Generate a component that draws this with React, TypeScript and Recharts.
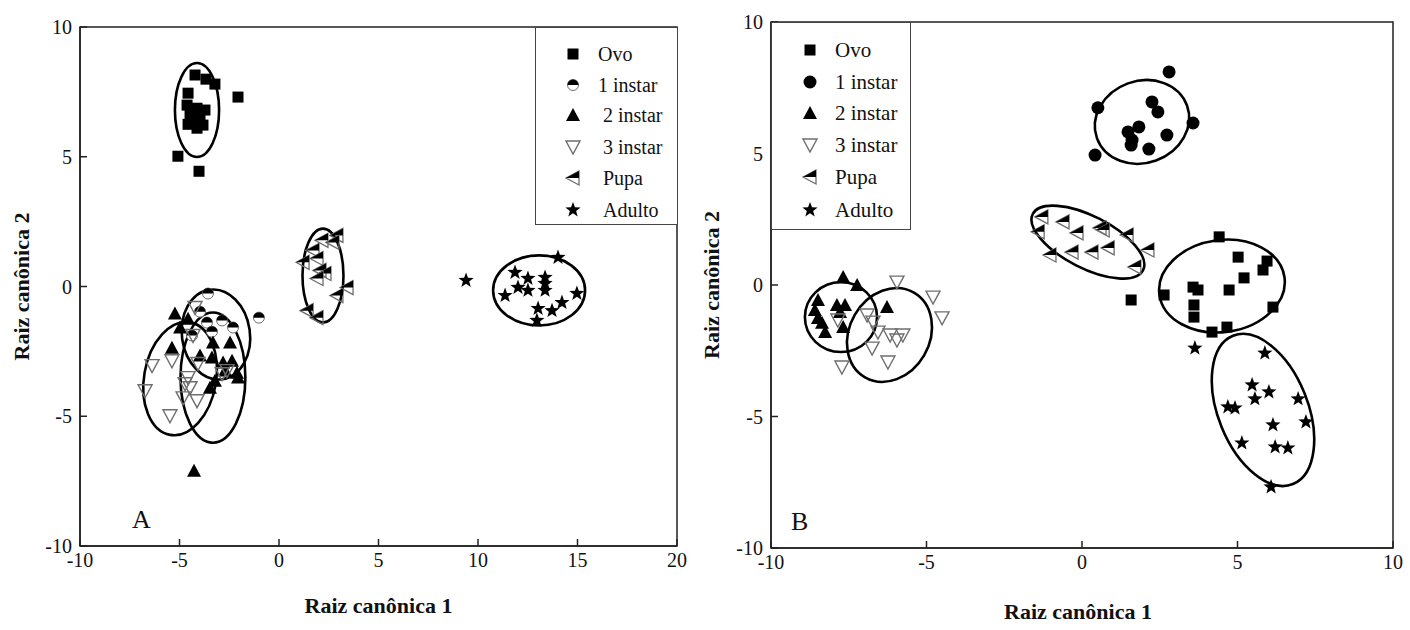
import React from 'react';
import { ScatterChart, Scatter, XAxis, YAxis, ReferenceArea, Legend } from 'recharts';

const FONT = '"Liberation Serif", "Times New Roman", serif';
const SERIES_NAMES = ['Ovo', '1 instar', '2 instar', '3 instar', 'Pupa', 'Adulto'];
const X_TICKS_A = [-10, -5, 0, 5, 10, 15, 20];
const X_TICKS_B = [-10, -5, 0, 5, 10];
const Y_TICKS = [-10, -5, 0, 5, 10];

// ---------- Panel A ----------
const A_OVO = [[-4.22, 8.15], [-3.67, 7.99], [-3.22, 7.8], [-4.57, 7.45], [-2.06, 7.3], [-4.62, 6.99], [-4.12, 6.87], [-3.72, 6.8], [-4.47, 6.6], [-3.97, 6.49], [-4.32, 6.41], [-4.57, 6.25], [-3.82, 6.22], [-4.12, 6.1], [-5.08, 5.02], [-4.02, 4.44]];
const A_INSTAR1 = [[-3.57, -0.27], [-1.01, -1.2], [-3.62, -1.39], [-3.37, -1.74], [-2.86, -1.31], [-4.37, -1.89], [-3.97, -0.97], [-2.31, -1.58]];
const A_INSTAR2 = [[-5.23, -1.04], [-4.97, -1.58], [-5.38, -2.36], [-4.57, -1.24], [-3.32, -2.16], [-2.46, -2.16], [-3.97, -2.66], [-3.37, -2.74], [-2.81, -2.93], [-2.36, -2.86], [-2.11, -3.32], [-2.06, -3.51], [-3.22, -3.63], [-3.47, -3.9], [-2.71, -3.24], [-4.27, -7.1]];
const A_INSTAR3 = [[-4.22, -0.81], [-5.38, -2.86], [-6.38, -3.05], [-6.73, -4.02], [-4.57, -3.51], [-4.72, -3.75], [-4.47, -3.9], [-4.82, -4.29], [-4.12, -4.4], [-5.48, -4.98], [-2.86, -3.36], [-4.07, -2.97], [-4.32, -1.89], [-2.61, -3.24]];
const A_PUPA = [[2.91, 1.97], [2.71, 1.7], [2.16, 1.78], [1.71, 1.39], [1.21, 0.93], [1.91, 1.08], [2.06, 0.62], [2.31, 0.5], [1.91, 0.31], [3.42, -0.04], [2.91, -0.35], [1.41, -0.93], [1.91, -1.2]];
const A_ADULTO = [[9.4, 0.23], [14.02, 1.12], [11.86, 0.54], [12.51, 0.31], [13.37, 0.35], [13.37, 0.12], [12.01, -0.04], [12.51, -0.15], [13.37, -0.15], [11.36, -0.35], [14.97, -0.27], [14.22, -0.62], [13.72, -0.93], [13.02, -0.85], [12.96, -1.31]];
// ellipses: centre x, centre y, radius x, radius y, tilt (deg)
const A_ELLIPSES = [
  [-4.12, 6.8, 1.11, 1.81, 0],
  [-3.17, -1.85, 1.71, 1.74, -8],
  [-3.32, -3.51, 1.63, 2.51, 0],
  [-4.97, -3.55, 1.81, 2.2, 10],
  [2.21, 0.42, 1.03, 1.81, 0],
  [13.07, -0.15, 2.31, 1.35, 0],
];

// ---------- Panel B ----------
const B_OVO = [[4.41, 1.83], [5.02, 1.06], [5.95, 0.91], [5.82, 0.57], [5.21, 0.27], [4.73, -0.19], [3.57, -0.08], [3.73, -0.19], [2.64, -0.38], [1.58, -0.57], [3.6, -0.76], [3.6, -1.22], [6.14, -0.84], [4.18, -1.79], [4.66, -1.6]];
const B_INSTAR1 = [[2.8, 8.1], [0.51, 6.74], [3.57, 6.16], [0.42, 4.94], [2.25, 6.96], [2.44, 6.58], [1.83, 6.01], [1.48, 5.82], [1.61, 5.51], [1.58, 5.32], [2.15, 5.17], [2.73, 5.7]];
const B_INSTAR2 = [[-7.68, 0.3], [-7.23, 0.0], [-8.49, -0.57], [-8.59, -0.95], [-7.88, -0.76], [-7.62, -0.76], [-8.49, -1.25], [-8.26, -1.79], [-7.68, -1.6], [-6.27, -0.84], [-8.36, -1.44], [-7.78, -1.03]];
const B_INSTAR3 = [[-5.95, 0.11], [-4.79, -0.46], [-4.5, -1.25], [-6.91, -1.14], [-6.72, -1.41], [-6.56, -1.79], [-6.17, -1.9], [-5.95, -2.09], [-5.76, -1.9], [-6.75, -2.4], [-6.24, -2.93], [-7.72, -3.12], [-7.85, -1.33]];
const B_PUPA = [[-1.29, 2.59], [-0.61, 2.4], [-1.41, 2.02], [-0.16, 1.98], [0.58, 2.17], [0.68, 2.09], [1.45, 1.9], [-1.03, 1.14], [-0.32, 1.25], [0.32, 1.25], [0.84, 1.41], [2.12, 1.33], [1.7, 0.68]];
const B_ADULTO = [[3.63, -2.4], [5.88, -2.59], [5.47, -3.8], [5.56, -4.33], [6.01, -4.07], [6.95, -4.33], [4.69, -4.64], [4.92, -4.68], [7.2, -5.21], [6.14, -5.32], [5.14, -6.01], [6.21, -6.16], [6.62, -6.2], [6.08, -7.68]];
const B_ELLIPSES = [
  [1.93, 6.2, 1.54, 1.56, -20],
  [-1.04 + 1.23, 1.63, 1.99, 0.99, 27],
  [4.5, -0.04, 2.03, 1.75, -8],
  [5.82, -4.75, 1.44, 3.04, -22],
  [-7.75, -1.22, 1.16, 1.33, 0],
  [-6.19, -1.9, 1.29, 1.86, 30],
];

const toPts = (arr: number[][]) => arr.map(([x, y]) => ({ x, y }));

// ---------- marker shapes ----------
const INK = '#000';
const GREY = '#6e6e6e';

function Marker({ kind, cx, cy }: { kind: string; cx: number; cy: number }) {
  switch (kind) {
    case 'square':
      return <rect x={cx - 5.5} y={cy - 5.5} width={11} height={11} fill={INK} />;
    case 'half':
      return (
        <g>
          <circle cx={cx} cy={cy} r={5.5} fill="#fff" stroke={GREY} strokeWidth={1} />
          <path d={`M ${cx - 5.5} ${cy} A 5.5 5.5 0 0 1 ${cx + 5.5} ${cy} Z`} fill={INK} />
        </g>
      );
    case 'circle':
      return <circle cx={cx} cy={cy} r={6.5} fill={INK} />;
    case 'tri':
      return <polygon points={`${cx},${cy - 7} ${cx + 7},${cy + 6} ${cx - 7},${cy + 6}`} fill={INK} />;
    case 'tridown':
      return <polygon points={`${cx - 7},${cy - 6} ${cx + 7},${cy - 6} ${cx},${cy + 7}`} fill="none" stroke={GREY} strokeWidth={1.4} />;
    case 'pupa':
      return (
        <g>
          <polygon points={`${cx - 7},${cy} ${cx + 6},${cy - 7} ${cx + 6},${cy + 7}`} fill="none" stroke={GREY} strokeWidth={1.3} />
          <polygon points={`${cx - 7},${cy} ${cx + 6},${cy - 7} ${cx + 6},${cy}`} fill={INK} />
        </g>
      );
    case 'star': {
      const pts: string[] = [];
      for (let i = 0; i < 10; i++) {
        const r = i % 2 === 0 ? 8 : 3.3;
        const a = -Math.PI / 2 + (i * Math.PI) / 5;
        pts.push(`${cx + r * Math.cos(a)},${cy + r * Math.sin(a)}`);
      }
      return <polygon points={pts.join(' ')} fill={INK} />;
    }
    default:
      return null;
  }
}

const shapeOf = (kind: string) => (props: any) => <Marker kind={kind} cx={props.cx} cy={props.cy} />;

const ellipseShape = (angle: number) => (props: any) => {
  const { x, y, width, height } = props;
  const w = Math.abs(width), h = Math.abs(height);
  const cx = Math.min(x, x + width) + w / 2;
  const cy = Math.min(y, y + height) + h / 2;
  return <ellipse cx={cx} cy={cy} rx={w / 2} ry={h / 2} transform={`rotate(${angle} ${cx} ${cy})`} fill="none" stroke="#000" strokeWidth={2.6} />;
};

// ---------- ticks ----------
const XTick = (props: any) => {
  const { x, y, payload } = props;
  return (
    <g>
      <line x1={x} x2={x} y1={y - 8} y2={y - 15} stroke="#222" strokeWidth={1.5} />
      <text x={x} y={y + 13} textAnchor="middle" fontFamily={FONT} fontSize={20} fill="#111">{payload.value}</text>
    </g>
  );
};
const YTick = (props: any) => {
  const { x, y, payload } = props;
  return (
    <g>
      <line x1={x + 8} x2={x + 15} y1={y} y2={y} stroke="#222" strokeWidth={1.5} />
      <text x={x} y={y + 7} textAnchor="end" fontFamily={FONT} fontSize={20} fill="#111">{payload.value}</text>
    </g>
  );
};

// ---------- legend ----------
function LegendBox({ kinds, w, h, rowY, markX, textX, fontSize }: any) {
  return (
    <svg width={w} height={h} style={{ display: 'block' }}>
      <rect x={0.5} y={0.5} width={w - 1} height={h - 1} fill="#fff" stroke="#444" strokeWidth={1} />
      {SERIES_NAMES.map((name, i) => (
        <g key={name}>
          <Marker kind={kinds[i]} cx={markX} cy={rowY[i]} />
          <text x={textX[i]} y={rowY[i] + 7} fontFamily={FONT} fontSize={fontSize} fill="#111">{name}</text>
        </g>
      ))}
    </svg>
  );
}

const KINDS_A = ['square', 'half', 'tri', 'tridown', 'pupa', 'star'];
const KINDS_B = ['square', 'circle', 'tri', 'tridown', 'pupa', 'star'];

function Panel(props: any) {
  const { width, margin, yWidth, xHeight, xDomain, xTicks, series, ellipses, kinds, letter, legend, titleDX, yTitleX, letterDX, xTitleDY } = props;
  return (
    <ScatterChart width={width} height={630} margin={margin}>
      <XAxis
        type="number" dataKey="x" domain={xDomain} ticks={xTicks} allowDataOverflow
        height={xHeight} tickLine={false} tickSize={6} tickMargin={2} interval={0}
        axisLine={{ stroke: '#222', strokeWidth: 1.5 }} tick={<XTick />}
        label={{
          content: (p: any) => {
            const vb = p.viewBox;
            return (
              <g>
                <text x={vb.x + vb.width / 2 + titleDX} y={vb.y + xTitleDY} textAnchor="middle" fontFamily={FONT} fontWeight="bold" fontSize={22} fill="#111">Raiz canônica 1</text>
                <text x={vb.x + letterDX} y={vb.y - 18} fontFamily={FONT} fontSize={26} fill="#111">{letter}</text>
              </g>
            );
          },
        }}
      />
      <YAxis
        type="number" dataKey="y" domain={[-10, 10]} ticks={Y_TICKS} allowDataOverflow
        width={yWidth} tickLine={false} tickSize={6} tickMargin={2} interval={0}
        axisLine={{ stroke: '#222', strokeWidth: 1.5 }} tick={<YTick />}
        label={{
          content: (p: any) => {
            const vb = p.viewBox;
            const cy = vb.y + vb.height / 2;
            return (
              <text x={vb.x + yTitleX} y={cy} transform={`rotate(-90 ${vb.x + yTitleX} ${cy})`} textAnchor="middle" fontFamily={FONT} fontWeight="bold" fontSize={22} fill="#111">Raiz canônica 2</text>
            );
          },
        }}
      />
      <ReferenceArea x1={xDomain[0]} x2={xDomain[1]} y1={-10} y2={10} ifOverflow="visible" fill="none" fillOpacity={0} stroke="#222" strokeWidth={1.5} />
      {series.map((s: number[][], i: number) => (
        <Scatter key={SERIES_NAMES[i]} name={SERIES_NAMES[i]} data={toPts(s)} shape={shapeOf(kinds[i])} isAnimationActive={false} />
      ))}
      {ellipses.map((e: number[], i: number) => (
        <ReferenceArea key={'e' + i} x1={e[0] - e[2]} x2={e[0] + e[2]} y1={e[1] - e[3]} y2={e[1] + e[3]} ifOverflow="visible" shape={ellipseShape(e[4])} />
      ))}
      <Legend
        layout="vertical" align="center" verticalAlign="middle"
        wrapperStyle={{ position: 'absolute', left: legend.left, top: legend.top, width: legend.w, height: legend.h, margin: 0, padding: 0 }}
        content={() => <LegendBox kinds={kinds} w={legend.w} h={legend.h} rowY={legend.rowY} markX={legend.markX} textX={legend.textX} fontSize={legend.fontSize} />}
      />
    </ScatterChart>
  );
}

export default function App() {
  return (
    <div style={{ position: 'absolute', left: 0, top: 0, width: 1410, height: 630, background: '#fff', overflow: 'hidden' }}>
      <div style={{ position: 'absolute', left: 0, top: 0 }}>
        <Panel
          width={700} margin={{ top: 27, right: 23, bottom: 0, left: 0 }} yWidth={80} xHeight={84}
          xDomain={[-10, 20]} xTicks={X_TICKS_A}
          series={[A_OVO, A_INSTAR1, A_INSTAR2, A_INSTAR3, A_PUPA, A_ADULTO]}
          ellipses={A_ELLIPSES} kinds={KINDS_A} letter="A" letterDX={52} titleDX={0} yTitleX={29} xTitleDY={67}
          legend={{ left: 535, top: 27, w: 143, h: 198, rowY: [27, 58, 88, 120, 151, 183], markX: 38, textX: [63, 63, 68, 68, 68, 68], fontSize: 20 }}
        />
      </div>
      <div style={{ position: 'absolute', left: 700, top: 0 }}>
        <Panel
          width={710} margin={{ top: 22, right: 17, bottom: 0, left: 0 }} yWidth={71} xHeight={82}
          xDomain={[-10, 10]} xTicks={X_TICKS_B}
          series={[B_OVO, B_INSTAR1, B_INSTAR2, B_INSTAR3, B_PUPA, B_ADULTO]}
          ellipses={B_ELLIPSES} kinds={KINDS_B} letter="B" letterDX={20} titleDX={-4} yTitleX={19} xTitleDY={71}
          legend={{ left: 71, top: 22, w: 140, h: 208, rowY: [28, 60, 91, 123, 155, 188], markX: 39, textX: [64, 64, 64, 64, 64, 64], fontSize: 21 }}
        />
      </div>
    </div>
  );
}
